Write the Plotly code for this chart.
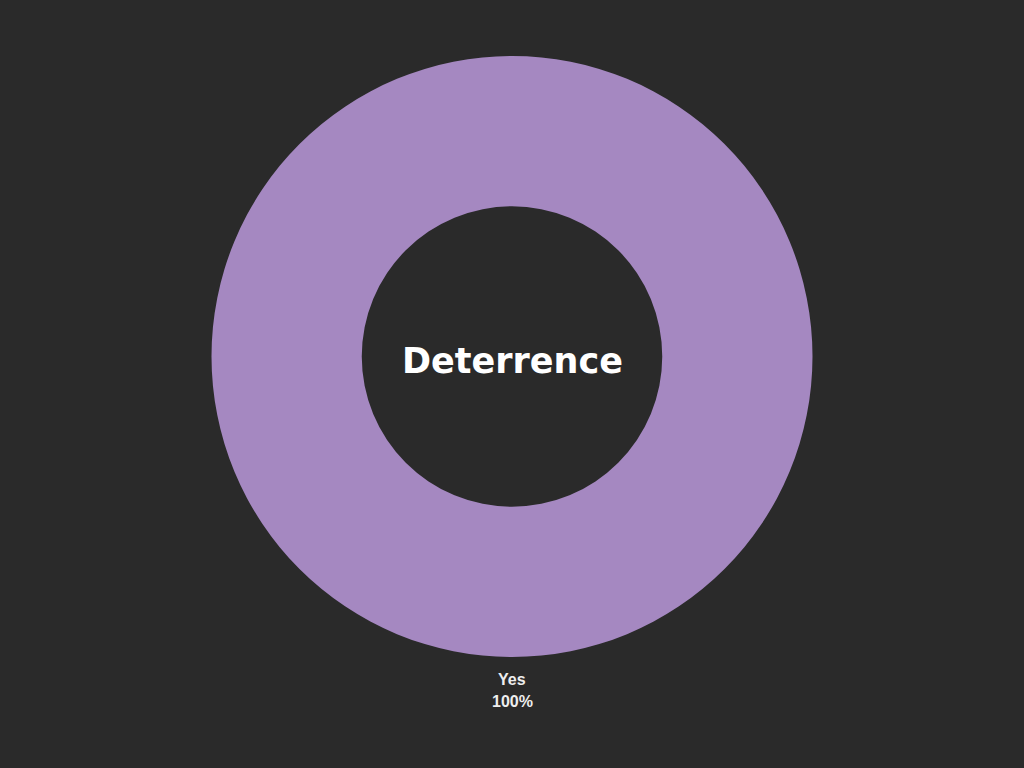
import plotly.graph_objects as go

labels = ["Yes"]
values = [100]
colors = ["#a588c1"]
title_text = "Deterrence"

total = sum(values)

fig = go.Figure(go.Pie(
    labels=labels,
    values=values,
    hole=0.5,
    sort=False,
    direction="clockwise",
    rotation=0,
    marker=dict(colors=colors, line=dict(width=0)),
    textinfo="none",
    showlegend=False,
    hoverinfo="label+percent",
))

fig.add_annotation(
    text="<b>" + title_text + "</b>",
    x=0.5, y=0.5, xref="paper", yref="paper",
    showarrow=False, yshift=-4,
    font=dict(family="DejaVu Sans", size=35, color="#ffffff"),
)

for lab, val in zip(labels, values):
    pct = f"{round(100 * val / total)}%"
    fig.add_annotation(
        text="<b>" + lab + "</b>", x=0.5, y=0, xref="paper", yref="paper",
        yanchor="middle", showarrow=False, yshift=-22,
        font=dict(family="Liberation Sans, Arial", size=16, color="#eeeeee"),
    )
    fig.add_annotation(
        text="<b>" + pct + "</b>", x=0.5, y=0, xref="paper", yref="paper",
        yanchor="middle", showarrow=False, yshift=-44,
        font=dict(family="Liberation Sans, Arial", size=16, color="#eeeeee"),
    )

fig.update_layout(
    width=1024, height=768,
    paper_bgcolor="#2a2a2a",
    plot_bgcolor="#2a2a2a",
    margin=dict(l=0, r=0, t=56, b=111),
)

fig.write_html("out.html")
